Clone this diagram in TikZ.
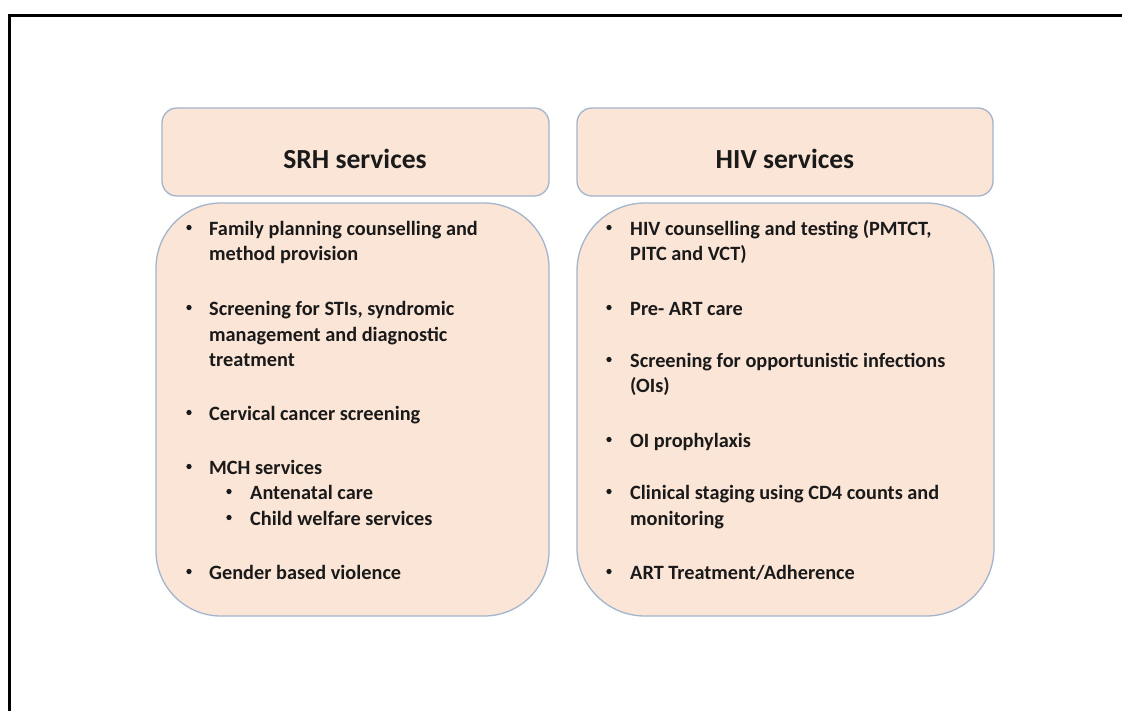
\documentclass[tikz,border=0pt]{standalone}
\usepackage{fontspec}
\setmainfont{Carlito}
\definecolor{boxfill}{HTML}{FBE5D6}
\definecolor{boxline}{HTML}{A3B5CC}
\definecolor{ink}{HTML}{1A1A1A}
\begin{document}
\begin{tikzpicture}[x=1pt,y=-1pt,
  panel/.style={draw=boxline,line width=1.3pt,fill=boxfill,inner sep=0pt},
  headbox/.style={panel,rounded corners=15pt,minimum height=88pt},
  listbox/.style={panel,minimum height=413pt},
  headtext/.style={anchor=base,inner sep=0pt,text=ink,font=\bfseries\fontsize{27.6}{34}\selectfont},
  itemtext/.style={anchor=base west,inner sep=0pt,text=ink,font=\bfseries\fontsize{20.3}{25}\selectfont},
  dot/.style={circle,fill=ink,inner sep=0pt,minimum size=5.3pt,yshift=7.5pt}]
\useasboundingbox (0,0) rectangle (1122,710);
\fill[white] (0,0) rectangle (1122,710);
% outer frame (left and top edges)
\draw[line width=3pt] (9,712) -- (9,15) -- (1124,15);

% SRH column
\node[headbox,minimum width=387pt] (srhhead) at (355.5,152) {};
\node[headtext] (srhtitle) at (355,168) {SRH services};
\node[listbox,minimum width=393pt,rounded corners=65pt] (srhlist) at (352.5,409.5) {};
\foreach \yy/\tt [count=\i] in {235/{Family planning counselling and},260/{method provision},
  315/{Screening for STIs, syndromic},341/{management and diagnostic},366/{treatment},
  420/{Cervical cancer screening},474/{MCH services},579/{Gender based violence}}
  \node[itemtext] (srh\i) at (209,\yy) {\tt};
\foreach \yy/\tt [count=\i] in {499/{Antenatal care},525/{Child welfare services}}
  \node[itemtext] (srhsub\i) at (250,\yy) {\tt};
\foreach \yy [count=\i] in {235,315,420,474,579}
  \node[dot] (srhdot\i) at (189,\yy) {};
\foreach \yy [count=\i] in {499,525}
  \node[dot] (srhsubdot\i) at (229,\yy) {};

% HIV column
\node[headbox,minimum width=416pt] (hivhead) at (785,152) {};
\node[headtext] (hivtitle) at (785,168) {HIV services};
\node[listbox,minimum width=417pt,rounded corners=68pt] (hivlist) at (785.5,409.5) {};
\foreach \yy/\tt [count=\i] in {235/{HIV counselling and testing (PMTCT,},260/{PITC and VCT)},
  315/{Pre- ART care},367/{Screening for opportunistic infections},392/{(OIs)},
  447/{OI prophylaxis},499/{Clinical staging using CD4 counts and},525/{monitoring},
  579/{ART Treatment/Adherence}}
  \node[itemtext] (hiv\i) at (630,\yy) {\tt};
\foreach \yy [count=\i] in {235,315,367,447,499,579}
  \node[dot] (hivdot\i) at (609,\yy) {};
\end{tikzpicture}
\end{document}
